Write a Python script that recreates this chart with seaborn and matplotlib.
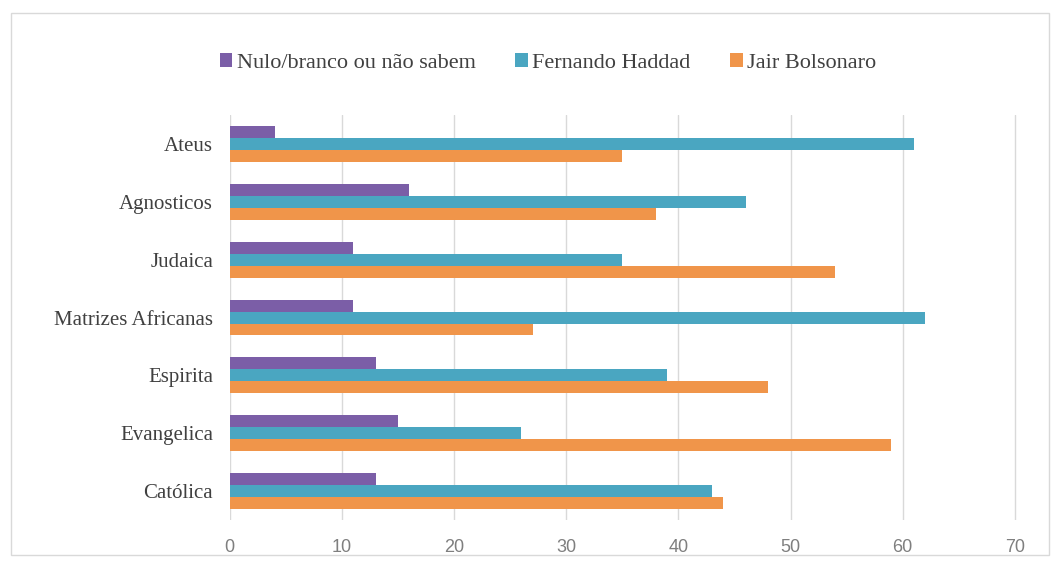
import pandas as pd
import seaborn as sns
import matplotlib.pyplot as plt
from matplotlib.patches import Rectangle

# Data
religions = ['Ateus', 'Agnosticos', 'Judaica', 'Matrizes Africanas',
             'Espirita', 'Evangelica', 'Católica']
series = ['Nulo/branco ou não sabem', 'Fernando Haddad', 'Jair Bolsonaro']
nulo = [4, 16, 11, 11, 13, 15, 13]
haddad = [61, 46, 35, 62, 39, 26, 43]
bolsonaro = [35, 38, 54, 27, 48, 59, 44]
x_ticks = [0, 10, 20, 30, 40, 50, 60, 70]

colors = ['#7b5ea7', '#4aa6c1', '#f0954a']

df = pd.DataFrame({'Religion': religions, series[0]: nulo,
                   series[1]: haddad, series[2]: bolsonaro})
long_df = df.melt(id_vars='Religion', var_name='Voto', value_name='Pct')

sns.set_style('white')
plt.rcParams['font.family'] = ['Liberation Serif', 'DejaVu Serif']

fig = plt.figure(figsize=(10.54, 5.62), dpi=100)
ax = fig.add_axes([0.218, 0.075, 0.748, 0.72])

sns.barplot(data=long_df, y='Religion', x='Pct', hue='Voto',
            order=religions, hue_order=series, palette=colors,
            orient='h', width=0.62, ax=ax, saturation=1, edgecolor='none')

ax.set_xlim(0, 70.3)
ax.set_xticks(x_ticks)
ax.set_xlabel('')
ax.set_ylabel('')
ax.grid(axis='x', color='#d9d9d9', linewidth=1)
ax.set_axisbelow(True)
for s in ax.spines.values():
    s.set_visible(False)
ax.tick_params(axis='both', length=0)
ax.tick_params(axis='y', labelsize=15, colors='#404040', pad=12)
for lbl in ax.get_xticklabels():
    lbl.set_family(['Liberation Sans Narrow', 'Liberation Sans', 'DejaVu Sans'])
    lbl.set_fontsize(13)
    lbl.set_color('#7f7f7f')
ax.tick_params(axis='x', pad=14)

ax.legend(loc='center', bbox_to_anchor=(0.52, 0.888), bbox_transform=fig.transFigure,
          ncol=3, frameon=False, fontsize=16, handlelength=0.55, handleheight=0.55,
          handletextpad=0.2, columnspacing=1.8, labelcolor='#404040')

# light frame around the chart area
fig.patches.append(Rectangle((0.01, 0.012), 0.985, 0.965, transform=fig.transFigure,
                             fill=False, edgecolor='#d9d9d9', linewidth=1))

plt.savefig('out.png', dpi=100)
